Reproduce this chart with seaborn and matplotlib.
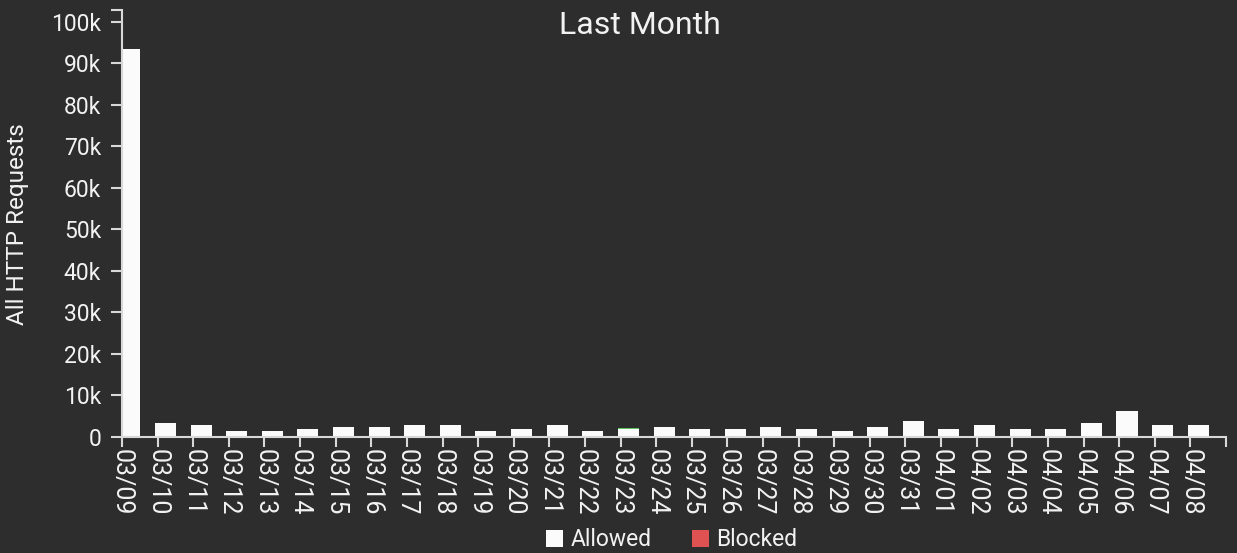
import numpy as np
import pandas as pd
import seaborn as sns
import matplotlib.pyplot as plt
from matplotlib.patches import Patch
from matplotlib.transforms import ScaledTranslation

days = ["03/09", "03/10", "03/11", "03/12", "03/13", "03/14", "03/15", "03/16",
        "03/17", "03/18", "03/19", "03/20", "03/21", "03/22", "03/23", "03/24",
        "03/25", "03/26", "03/27", "03/28", "03/29", "03/30", "03/31", "04/01",
        "04/02", "04/03", "04/04", "04/05", "04/06", "04/07", "04/08"]
allowed = [93500, 3400, 3000, 1400, 1400, 2000, 2500, 2500, 3000, 3000, 1400,
           2000, 3000, 1400, 1900, 2500, 2000, 2000, 2500, 2000, 1400, 2500,
           3900, 2000, 3000, 2000, 2000, 3400, 6300, 3000, 3000]
challenged = [0] * 14 + [150] + [0] * 16
blocked = [0] * 31

BG = "#2d2d2d"
FG = "#f2f2f2"
AXIS = "#d8d8d8"

sns.set_theme(style="dark")
plt.rcParams["font.family"] = ["Roboto", "DejaVu Sans"]

df = pd.DataFrame({"day": days, "allowed": allowed,
                   "challenged": challenged, "blocked": blocked})
df["top1"] = df["allowed"] + df["challenged"]
df["top2"] = df["top1"] + df["blocked"]

W, H = 1237, 553
fig, ax = plt.subplots(figsize=(W / 100, H / 100), dpi=100)
fig.patch.set_facecolor(BG)
ax.set_facecolor(BG)
fig.subplots_adjust(left=122 / W, right=1226 / W, bottom=1 - 437 / H, top=1 - 10 / H)

# stacked look: draw totals first, then lower layers over them
w = 0.59
sns.barplot(data=df, x="day", y="top2", order=days, color="#e05252", width=w,
            saturation=1, ax=ax, linewidth=0)
sns.barplot(data=df, x="day", y="top1", order=days, color="#5cc45c", width=w,
            saturation=1, ax=ax, linewidth=0)
sns.barplot(data=df, x="day", y="allowed", order=days, color="#fbfbfb", width=w,
            saturation=1, ax=ax, linewidth=0)

# ticks sit at the start of each day, bars are offset to the right
off = 0.22
n = len(days)
ax.set_xlim(-off, n - off)
ymax = max(df["top2"]) * 1.1
ax.set_ylim(0, ymax)

ax.set_xticks(list(np.arange(n) - off) + [n - off])
ax.set_xticklabels(days + [""], rotation=-90, color=FG, fontsize=18, va="top", ha="center")
shift = ScaledTranslation(18 / 100, 0, fig.dpi_scale_trans)
for lab in ax.get_xticklabels():
    lab.set_transform(lab.get_transform() + shift)

yt = list(range(0, 100001, 10000))
ax.set_yticks(yt + [ymax])
ax.set_yticklabels(["0"] + [f"{v // 1000}k" for v in yt[1:]] + [""], color=FG, fontsize=16.5)

ax.tick_params(axis="x", length=7.5, width=1.5, color=AXIS, pad=1, bottom=True)
ax.tick_params(axis="y", length=8, width=1.5, color=AXIS, pad=7, left=True)

for s in ["top", "right"]:
    ax.spines[s].set_visible(False)
for s in ["left", "bottom"]:
    ax.spines[s].set_visible(True)
    ax.spines[s].set_color(AXIS)
    ax.spines[s].set_linewidth(1.5)

ax.set_xlabel("")
ax.set_ylabel("")
ax.grid(False)
fig.text(18 / W, 1 - 224 / H, "All HTTP Requests", rotation=90, ha="center", va="center",
         color=FG, fontsize=17.5)
fig.text(640 / W, 1 - 25 / H, "Last Month", ha="center", va="center", color=FG, fontsize=23)

handles = [Patch(facecolor="#fbfbfb", edgecolor="none", label="Allowed"),
           Patch(facecolor="#e05252", edgecolor="none", label="Blocked")]
fig.legend(handles=handles, loc="center", bbox_to_anchor=(672 / W, 1 - 540 / H), ncol=2,
           frameon=False, fontsize=16.5, labelcolor=FG, handlelength=0.72, handleheight=0.72,
           handletextpad=0.35, columnspacing=1.75, borderpad=0)

fig.savefig("out.png", dpi=100, facecolor=BG)
